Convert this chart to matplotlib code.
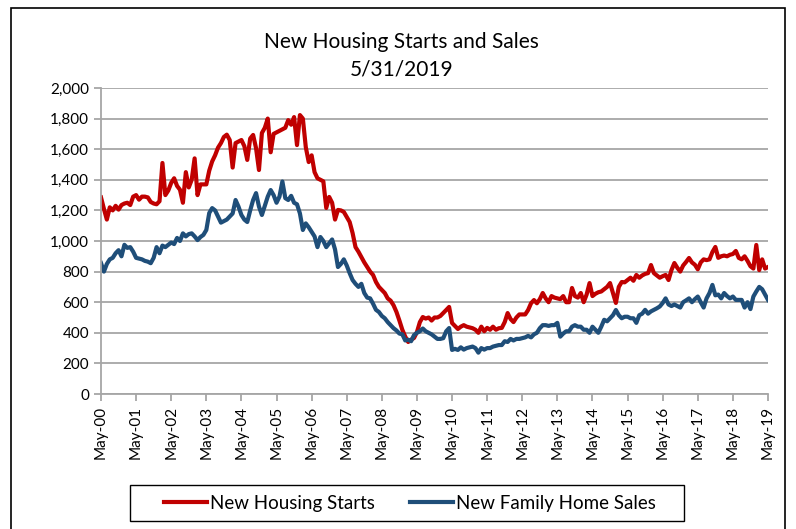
import numpy as np
import matplotlib
matplotlib.use("Agg")
from matplotlib import pyplot as plt
from matplotlib.patches import Rectangle
from matplotlib.ticker import FuncFormatter

plt.rcParams['font.family'] = ['Lato', 'DejaVu Sans']

# monthly, May-2000 .. May-2019 (thousands, SAAR)
tick_labels = ["May-%02d" % (y % 100) for y in range(2000, 2020)]

starts = [
    1285, 1210, 1140, 1220, 1200, 1230, 1205, 1235, 1245, 1250, 1235, 1290,
    1300, 1270, 1290, 1290, 1285, 1255, 1245, 1240, 1260, 1510, 1300, 1330,
    1380, 1410, 1360, 1335, 1250, 1450, 1350, 1400, 1540, 1300, 1370, 1370,
    1370, 1460, 1520, 1560, 1610, 1640, 1680, 1695, 1660, 1480, 1640, 1650,
    1660, 1620, 1530, 1670, 1693, 1607, 1464, 1706, 1740, 1800, 1580, 1700,
    1710, 1720, 1730, 1740, 1790, 1760, 1810, 1627, 1823, 1800, 1614, 1516,
    1560, 1450, 1410, 1400, 1390, 1216, 1288, 1250, 1140, 1203, 1200, 1190,
    1157, 1124, 1052, 960, 930, 895, 860, 830, 800, 778, 732, 700,
    680, 660, 625, 610, 580, 536, 480, 420, 375, 340, 355, 366,
    405, 470, 503, 493, 500, 480, 500, 500, 510, 529, 549, 569,
    464, 445, 425, 440, 450, 440, 435, 430, 420, 400, 440, 410,
    432, 420, 440, 420, 430, 432, 470, 529, 490, 470, 500, 520,
    520, 520, 549, 593, 614, 593, 620, 660, 625, 600, 640, 630,
    625, 620, 640, 600, 600, 693, 640, 630, 660, 600, 650, 725,
    640, 655, 665, 670, 685, 700, 725, 660, 595, 700, 732, 730,
    745, 760, 740, 778, 760, 775, 785, 790, 843, 790, 775, 760,
    770, 778, 745, 810, 856, 825, 800, 840, 863, 889, 860, 845,
    815, 860, 880, 875, 880, 928, 961, 890, 900, 905, 900, 910,
    915, 935, 890, 880, 900, 870, 835, 820, 974, 810, 880, 820, 830,
]

sales = [
    856, 800, 850, 880, 890, 920, 940, 900, 975, 955, 960, 930,
    890, 885, 880, 870, 865, 855, 890, 960, 920, 970, 960, 975,
    990, 980, 1020, 1000, 1050, 1030, 1045, 1050, 1030, 1006, 1026, 1040,
    1072, 1183, 1215, 1200, 1160, 1120, 1130, 1140, 1160, 1180, 1268, 1225,
    1170, 1140, 1124, 1200, 1268, 1313, 1225, 1170, 1230, 1290, 1333, 1300,
    1250, 1290, 1389, 1280, 1268, 1295, 1250, 1240, 1180, 1072, 1115, 1090,
    1060, 1030, 960, 1026, 1000, 960, 985, 1010, 945, 830, 850, 880,
    840, 790, 745, 720, 700, 720, 660, 630, 625, 590, 550, 536,
    510, 495, 470, 450, 430, 415, 395, 390, 350, 355, 345, 385,
    400, 410, 428, 410, 400, 390, 375, 360, 360, 365, 410, 431,
    288, 295, 288, 305, 290, 300, 305, 310, 300, 270, 300, 290,
    300, 300, 310, 315, 320, 320, 345, 340, 360, 350, 360, 360,
    365, 370, 380, 370, 390, 400, 430, 450, 450, 445, 450, 450,
    465, 375, 395, 410, 410, 440, 450, 440, 440, 420, 420, 400,
    440, 420, 400, 440, 485, 475, 495, 515, 549, 515, 495, 505,
    505, 495, 495, 465, 515, 525, 550, 525, 540, 550, 560, 572,
    595, 625, 585, 575, 585, 575, 565, 600, 612, 625, 600, 620,
    637, 600, 565, 625, 660, 713, 645, 650, 625, 660, 640, 625,
    637, 615, 615, 615, 565, 600, 555, 637, 670, 700, 685, 650, 615,
]

months = np.arange(len(starts))
W, H = 796, 529
grey = '#A6A6A6'

fig = plt.figure(figsize=(W / 100, H / 100), dpi=100)
ax = fig.add_axes([101 / W, 1 - 394 / H, 667 / W, 306 / H])

ax.plot(months, starts, color='#C00000', lw=3, label='New Housing Starts')
ax.plot(months, sales, color='#1F4E79', lw=3, label='New Family Home Sales')

ax.set_xlim(0, len(starts) - 1)
ax.set_ylim(0, 2000)
ax.set_yticks(np.arange(0, 2001, 200))
ax.yaxis.set_major_formatter(FuncFormatter(lambda v, p: f"{int(v):,}"))
ax.set_xticks(np.arange(0, len(starts), 12))
ax.set_xticklabels(tick_labels, rotation=90)

ax.grid(axis='y', color=grey, lw=1.3)
ax.set_axisbelow(True)
for s in ['top', 'right']:
    ax.spines[s].set_visible(False)
for s in ['left', 'bottom']:
    ax.spines[s].set_color(grey)
    ax.spines[s].set_linewidth(1.3)
ax.tick_params(color=grey, labelcolor='black', labelsize=11, length=5, width=1.3)

fig.text(0.504, 1 - 42 / H, 'New Housing Starts and Sales', ha='center', va='center', fontsize=15)
fig.text(0.504, 1 - 70 / H, '5/31/2019', ha='center', va='center', fontsize=15)

fig.legend(loc='center', bbox_to_anchor=(410 / W, 1 - 503 / H), ncol=2, frameon=False,
           fontsize=13.5, handlelength=2.3, handletextpad=0.15, columnspacing=1.9)
fig.add_artist(Rectangle((130 / W, 1 - 521 / H), 554 / W, 36 / H, transform=fig.transFigure,
                         fill=False, ec='black', lw=1))
# outer chart frame
fig.add_artist(Rectangle((11 / W, -0.05), 774 / W, 1.05 - 8 / H, transform=fig.transFigure,
                         fill=False, ec='black', lw=1.2))

fig.savefig('out.png', dpi=100)
